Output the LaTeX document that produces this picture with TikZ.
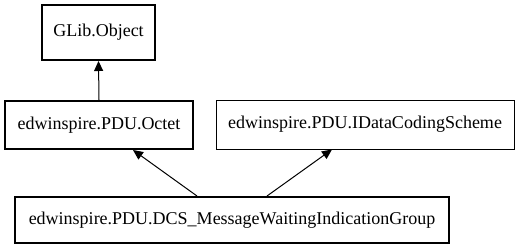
\documentclass[tikz,border=0pt]{standalone}
\usepackage{fontspec}
\setmainfont{Liberation Serif}
\usetikzlibrary{arrows.meta}
\begin{document}
\begin{tikzpicture}[x=1bp,y=-1bp,
  every node/.style={inner sep=0pt, font=\fontsize{18bp}{20bp}\selectfont},
  classbox/.style={draw=black, rectangle, line width=2bp},
  ifacebox/.style={draw=black, rectangle, line width=0.9bp},
  inherit/.style={draw=black, line width=1bp, -{Triangle[length=10bp,width=9bp]}}]
\useasboundingbox (0,0) rectangle (520,251);
\node[classbox, minimum width=113bp, minimum height=55bp] (glib) at (98.5,32.5) {GLib.Object};
\node[classbox, minimum width=188bp, minimum height=48bp] (octet) at (99,125) {edwinspire.PDU.Octet};
\node[ifacebox, minimum width=298bp, minimum height=49bp] (idcs) at (365,124.5) {edwinspire.PDU.IDataCodingScheme};
\node[classbox, minimum width=434bp, minimum height=46bp] (dcs) at (232,220) {edwinspire.PDU.DCS\_MessageWaitingIndicationGroup};
\draw[inherit] (octet.north) -- (glib.south);
\draw[inherit] ([xshift=-35bp]dcs.north) -- ([xshift=34bp]octet.south);
\draw[inherit] ([xshift=35bp]dcs.north) -- ([xshift=-33bp]idcs.south);
\end{tikzpicture}
\end{document}
